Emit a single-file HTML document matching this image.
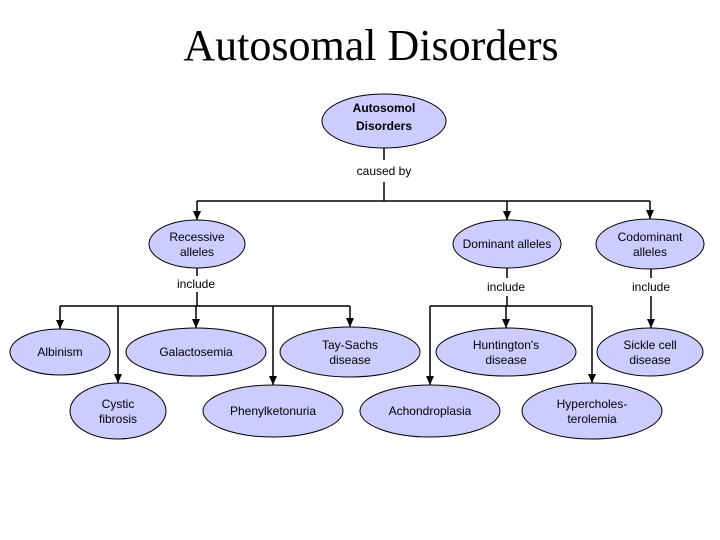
<!DOCTYPE html><html><head><style>body{margin:0;background:#fff}svg{display:block}text{font-family:"Liberation Sans",sans-serif;font-size:12px;text-anchor:middle}</style></head><body>
<svg width="720" height="540" viewBox="0 0 720 540" xmlns="http://www.w3.org/2000/svg">
<text x="371" y="60" style="font-family:'Liberation Serif',serif;font-size:44px">Autosomal Disorders</text>
<g stroke="#000" stroke-width="1.5" fill="none">
<path d="M384,148V160M384,182V201M197,201H650"/>
<path d="M197,201V220M507,201V220M650,201V219"/>
<path d="M197,268V276M197,292V306M507,268V278M507,296V306M651,268V278M651,296V328"/>
<path d="M60,306H350M430,306H592"/>
<path d="M60,306V329M118,306V383M196,306V328M273,306V385M350,306V327M430,306V385M506,306V328M592,306V383"/>
</g>
<g fill="#000">
<path d="M193,211h8l-4,9z"/><path d="M503,211h8l-4,9z"/><path d="M646,210h8l-4,9z"/>
<path d="M647,319h8l-4,9z"/>
<path d="M56,320h8l-4,9z"/><path d="M114,374h8l-4,9z"/><path d="M192,319h8l-4,9z"/><path d="M269,376h8l-4,9z"/><path d="M346,318h8l-4,9z"/><path d="M426,376h8l-4,9z"/><path d="M502,319h8l-4,9z"/><path d="M588,374h8l-4,9z"/>
</g>
<g fill="#ccccff" stroke="#000" stroke-width="1">
<ellipse cx="384" cy="121" rx="62" ry="27"/>
<ellipse cx="197" cy="244" rx="48" ry="24"/>
<ellipse cx="507" cy="244" rx="54" ry="24"/>
<ellipse cx="650" cy="244" rx="54" ry="25"/>
<ellipse cx="60" cy="352" rx="50" ry="23"/>
<ellipse cx="196" cy="352" rx="70" ry="24"/>
<ellipse cx="350" cy="352" rx="70" ry="25"/>
<ellipse cx="506" cy="352" rx="70" ry="24"/>
<ellipse cx="650" cy="352" rx="53" ry="24"/>
<ellipse cx="118" cy="411" rx="48" ry="28"/>
<ellipse cx="273" cy="411" rx="70" ry="26"/>
<ellipse cx="430" cy="411" rx="70" ry="26"/>
<ellipse cx="592" cy="411" rx="70" ry="28"/>
</g>
<text x="384" y="112" font-weight="bold">Autosomol</text><text x="384" y="130" font-weight="bold">Disorders</text>
<text x="384" y="175">caused by</text>
<text x="197" y="241">Recessive</text><text x="197" y="256">alleles</text>
<text x="507" y="248">Dominant alleles</text>
<text x="650" y="241">Codominant</text><text x="650" y="256">alleles</text>
<text x="196" y="288">include</text><text x="506" y="291">include</text><text x="651" y="291">include</text>
<text x="60" y="356">Albinism</text>
<text x="196" y="356">Galactosemia</text>
<text x="350" y="349">Tay-Sachs</text><text x="350" y="364">disease</text>
<text x="506" y="349">Huntington's</text><text x="506" y="364">disease</text>
<text x="650" y="349">Sickle cell</text><text x="650" y="364">disease</text>
<text x="118" y="408">Cystic</text><text x="118" y="423">fibrosis</text>
<text x="273" y="415">Phenylketonuria</text>
<text x="430" y="415">Achondroplasia</text>
<text x="592" y="408">Hypercholes-</text><text x="592" y="423">terolemia</text>
</svg></body></html>
